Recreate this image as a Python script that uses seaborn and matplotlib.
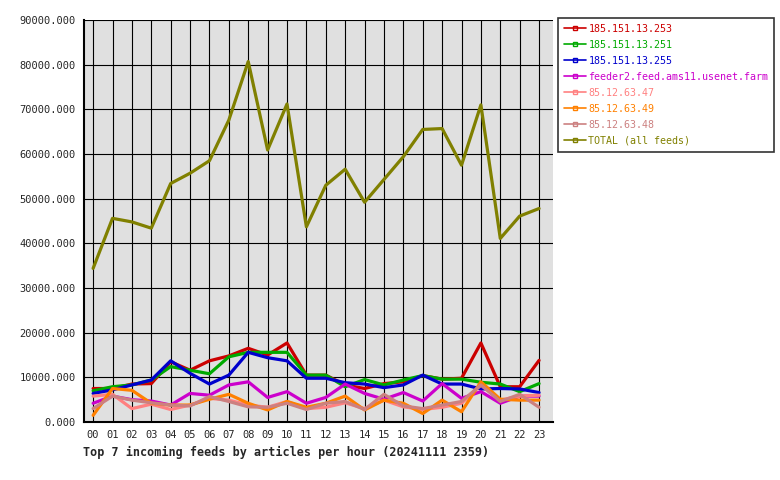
import pandas as pd
import seaborn as sns
import matplotlib.pyplot as plt
from matplotlib.lines import Line2D
from matplotlib.ticker import FuncFormatter, MultipleLocator

# Hours of the day
hours = [f"{h:02d}" for h in range(24)]

# Articles per hour for each feed
feed_253 = [7500, 7500, 8500, 8600, 13500, 11600, 13700, 14800, 16500, 15000, 17700, 10500,
            10500, 8300, 7500, 8600, 9000, 10400, 9600, 9800, 17700, 7900, 7900, 13800]
feed_251 = [7000, 7900, 8300, 9400, 12400, 11600, 10800, 14600, 15600, 15600, 15600, 10500,
            10500, 7900, 9500, 8300, 9400, 10400, 9600, 9600, 8900, 8500, 6800, 8600]
feed_255 = [6400, 7200, 8300, 9400, 13700, 10900, 8500, 10500, 15600, 14400, 13700, 9800,
            9800, 8800, 8500, 7700, 8300, 10500, 8500, 8500, 7400, 7500, 7400, 6600]
feed_ams11 = [4200, 5800, 5000, 4700, 3800, 6400, 6000, 8300, 9000, 5500, 6800, 4200,
              5500, 8500, 6400, 5100, 6600, 4700, 8600, 5300, 6800, 4200, 5800, 5800]
feed_47 = [5800, 6200, 3000, 4000, 2800, 3800, 5300, 4900, 3800, 3300, 4600, 3000,
           3300, 4300, 3000, 4900, 3400, 2800, 3300, 4200, 8300, 4900, 5800, 6000]
feed_49 = [1500, 7500, 7100, 4200, 3800, 3800, 5100, 6200, 4200, 2700, 4600, 3300,
           4200, 5800, 2700, 4900, 4200, 1900, 4900, 2300, 9000, 5100, 4900, 4900]
feed_48 = [3000, 5800, 4900, 4300, 3800, 3600, 5700, 4600, 3400, 3300, 4200, 2800,
           4200, 4600, 2800, 6200, 3600, 3000, 3800, 4600, 8300, 4600, 6200, 3300]
total = [34400, 45600, 44800, 43400, 53400, 55700, 58500, 67600, 80700, 60900, 71200, 43700,
         53000, 56600, 49200, 54300, 59400, 65500, 65700, 57500, 71000, 41100, 46100, 47800]

feed_names = ["185.151.13.253", "185.151.13.251", "185.151.13.255",
              "feeder2.feed.ams11.usenet.farm", "85.12.63.47", "85.12.63.49",
              "85.12.63.48", "TOTAL (all feeds)"]
feed_values = [feed_253, feed_251, feed_255, feed_ams11, feed_47, feed_49, feed_48, total]
feed_colors = ["#cc0000", "#00aa00", "#0000cc", "#cc00cc",
               "#ff8080", "#ff8000", "#cc8080", "#808000"]

# Long format table for seaborn
rows = []
for name, vals in zip(feed_names, feed_values):
    for i, v in enumerate(vals):
        rows.append({"hour": i, "feed": name, "articles": v})
df = pd.DataFrame(rows)

sns.set_style("white")
plt.rcParams["font.family"] = ["DejaVu Sans Mono"]

fig = plt.figure(figsize=(7.8, 4.8), dpi=100)
ax = fig.add_axes([0.1077, 0.1208, 0.6013, 0.8375])
ax.set_facecolor("#e0e0e0")

sns.lineplot(data=df, x="hour", y="articles", hue="feed", hue_order=feed_names,
             palette=dict(zip(feed_names, feed_colors)), linewidth=2.3,
             legend=False, ax=ax)

ax.set_xlim(-0.47, 23.72)
ax.set_ylim(0, 90000)
ax.set_xticks(range(24))
ax.set_xticklabels(hours)
ax.yaxis.set_major_locator(MultipleLocator(10000))
ax.yaxis.set_major_formatter(FuncFormatter(lambda v, p: f"{v:.3f}"))
ax.grid(True, color="black", linewidth=0.8)
ax.set_axisbelow(True)
ax.tick_params(axis="both", length=4, width=0.8, color="black", labelsize=7.5, pad=2)
ax.set_xlabel("")
ax.set_ylabel("")
for side in ["left", "bottom"]:
    ax.spines[side].set_color("black")
    ax.spines[side].set_linewidth(1.5)
for side in ["top", "right"]:
    ax.spines[side].set_visible(False)

# Legend with small hollow square marker in the middle of each line
handles = [Line2D([], [], color=c, lw=1.2, marker="s", ms=3, mfc="none", mew=1)
           for c in feed_colors]
leg = fig.legend(handles, feed_names, loc="upper left", bbox_to_anchor=(0.716, 0.963),
                 frameon=True, fancybox=False, fontsize=7.2, handlelength=2.2,
                 handletextpad=0.2, labelspacing=0.6, borderpad=0.6,
                 borderaxespad=0)
leg.get_frame().set_edgecolor("black")
leg.get_frame().set_linewidth(1.2)
for text, c in zip(leg.get_texts(), feed_colors):
    text.set_color(c)

fig.text(0.106, 0.049, "Top 7 incoming feeds by articles per hour (20241111 2359)",
         fontsize=8.5, fontweight="bold")

fig.savefig("out.png", dpi=100)
